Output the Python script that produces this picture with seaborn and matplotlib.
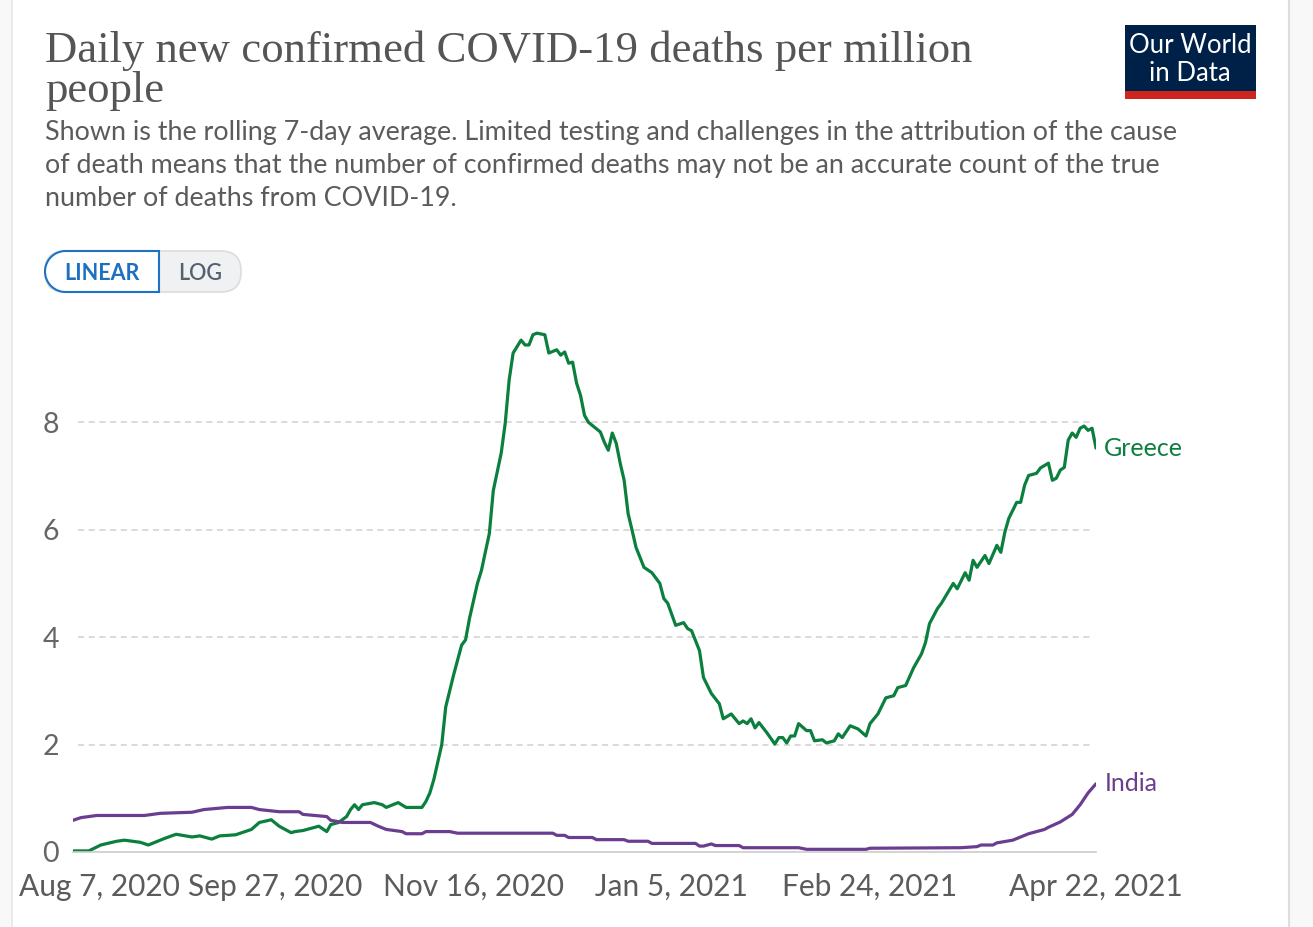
import numpy as np
import pandas as pd
import matplotlib
matplotlib.use("Agg")
import matplotlib.pyplot as plt
from matplotlib.patches import Rectangle, FancyBboxPatch, Polygon
from matplotlib.transforms import ScaledTranslation
import seaborn as sns

# ── Data ─────────────────────────────────────────────────────────────────────
START = pd.Timestamp("2020-08-07")

greece_days = [0, 4, 7, 11, 13, 17, 19, 23, 26, 30, 32, 35, 37, 41, 45, 47, 50,
               52, 55, 56, 58, 60, 62, 64, 65, 67, 69, 70, 71, 72, 73, 76, 78,
               79, 82, 84, 88, 89, 90, 91, 93, 94, 96, 98, 99, 100, 102, 103,
               105, 106, 108, 109, 110, 111, 113, 114, 115, 116, 117, 119, 120,
               122, 123, 124, 125, 126, 127, 128, 129, 130, 133, 134, 135, 136,
               137, 138, 139, 140, 141, 142, 144, 146, 148, 149, 150, 152, 154,
               155, 156, 158, 159, 161, 163, 164, 166, 168, 169, 170, 171, 172,
               173, 175, 177, 178, 179, 180, 181, 182, 183, 185, 186, 187, 189,
               190, 192, 193, 194, 196, 198, 200, 201, 203, 205, 207, 208, 210,
               212, 214, 215, 216, 218, 219, 222, 223, 225, 226, 227, 228, 230,
               231, 233, 234, 235, 236, 238, 239, 240, 241, 243, 244, 246, 247,
               248, 249, 250, 251, 252, 253, 254, 255, 256, 257, 258]
greece_vals = [0.02, 0.02, 0.13, 0.2, 0.22, 0.18, 0.13, 0.25, 0.33, 0.28, 0.3,
               0.24, 0.3, 0.32, 0.42, 0.55, 0.6, 0.48, 0.36, 0.38, 0.4, 0.44,
               0.48, 0.38, 0.51, 0.55, 0.66, 0.79, 0.88, 0.79, 0.88, 0.92, 0.88,
               0.83, 0.92, 0.83, 0.83, 0.94, 1.1, 1.35, 2.0, 2.7, 3.3, 3.85,
               3.95, 4.35, 5.0, 5.24, 5.93, 6.73, 7.43, 7.98, 8.79, 9.29, 9.53,
               9.44, 9.44, 9.63, 9.66, 9.63, 9.29, 9.35, 9.25, 9.31, 9.1, 9.12,
               8.73, 8.5, 8.13, 8.0, 7.82, 7.63, 7.48, 7.8, 7.61, 7.24, 6.92,
               6.3, 5.99, 5.67, 5.3, 5.2, 5.0, 4.72, 4.63, 4.22, 4.27, 4.16,
               4.12, 3.75, 3.25, 2.95, 2.76, 2.48, 2.57, 2.39, 2.44, 2.39, 2.48,
               2.31, 2.41, 2.22, 2.01, 2.13, 2.13, 2.03, 2.16, 2.16, 2.39, 2.26,
               2.26, 2.07, 2.09, 2.03, 2.07, 2.2, 2.13, 2.35, 2.29, 2.16, 2.39,
               2.57, 2.87, 2.91, 3.06, 3.1, 3.43, 3.69, 3.9, 4.25, 4.53, 4.63,
               5.0, 4.9, 5.2, 5.06, 5.43, 5.3, 5.52, 5.37, 5.71, 5.58, 5.95,
               6.21, 6.51, 6.51, 6.83, 7.01, 7.05, 7.15, 7.24, 6.92, 6.96, 7.11,
               7.16, 7.67, 7.8, 7.72, 7.89, 7.93, 7.85, 7.89, 7.52]

india_days = [0, 2, 6, 18, 22, 30, 33, 36, 39, 45, 47, 52, 57, 58, 61, 64, 65,
              68, 75, 77, 79, 81, 83, 84, 88, 89, 95, 97, 121, 122, 124, 125,
              131, 132, 139, 140, 145, 146, 157, 158, 159, 161, 162, 168, 169,
              183, 185, 200, 201, 224, 228, 229, 232, 233, 237, 241, 245, 246,
              249, 252, 254, 256, 258]
india_vals = [0.59, 0.64, 0.68, 0.68, 0.72, 0.74, 0.79, 0.81, 0.83, 0.83, 0.79,
              0.75, 0.75, 0.7, 0.68, 0.66, 0.59, 0.55, 0.55, 0.48, 0.42, 0.4,
              0.38, 0.34, 0.34, 0.38, 0.38, 0.35, 0.35, 0.31, 0.31, 0.27, 0.27,
              0.23, 0.23, 0.2, 0.2, 0.16, 0.16, 0.11, 0.11, 0.15, 0.12, 0.12,
              0.08, 0.08, 0.05, 0.05, 0.07, 0.08, 0.1, 0.13, 0.13, 0.17, 0.22,
              0.34, 0.42, 0.46, 0.56, 0.7, 0.88, 1.1, 1.27]

countries = ["Greece", "India"]
colors = {"Greece": "#0b7f3e", "India": "#6b3d90"}

tick_dates = ["2020-08-07", "2020-09-27", "2020-11-16",
              "2021-01-05", "2021-02-24", "2021-04-22"]
tick_labels = ["Aug 7, 2020", "Sep 27, 2020", "Nov 16, 2020",
               "Jan 5, 2021", "Feb 24, 2021", "Apr 22, 2021"]
y_ticks = [0, 2, 4, 6, 8]

title_lines = ["Daily new confirmed COVID-19 deaths per million", "people"]
subtitle_lines = [
    "Shown is the rolling 7-day average. Limited testing and challenges in the attribution of the cause",
    "of death means that the number of confirmed deaths may not be an accurate count of the true",
    "number of deaths from COVID-19.",
]

df = pd.concat([
    pd.DataFrame({"date": START + pd.to_timedelta(greece_days, unit="D"),
                  "value": greece_vals, "country": "Greece"}),
    pd.DataFrame({"date": START + pd.to_timedelta(india_days, unit="D"),
                  "value": india_vals, "country": "India"}),
])

# ── Style ────────────────────────────────────────────────────────────────────
sns.set_theme(style="white")
plt.rcParams["font.family"] = ["Lato", "DejaVu Sans"]

W, H = 1313, 927
fig = plt.figure(figsize=(W / 100, H / 100), dpi=100)
fig.patch.set_facecolor("white")

# background layer in pixel coordinates (card borders, logo, buttons)
bg = fig.add_axes([0, 0, 1, 1])
bg.set_xlim(0, W)
bg.set_ylim(H, 0)
bg.axis("off")
bg.add_patch(Rectangle((1289, 0), W - 1289, H, color="#f8f8f8", lw=0))
bg.add_patch(Rectangle((0, 0), 12, H, color="#f8f8f8", lw=0))
bg.plot([1289, 1289], [0, H], color="#dedede", lw=1.5)
bg.plot([12, 12], [0, H], color="#e6e6e6", lw=1.2)

# OWID logo
bg.add_patch(Rectangle((1125, 25), 131, 67, color="#002147", lw=0))
bg.add_patch(Rectangle((1125, 91), 131, 8, color="#ce261e", lw=0))
bg.text(1190, 45, "Our World", color="white", fontsize=18.5, ha="center", va="center")
bg.text(1190, 73, "in Data", color="white", fontsize=18.5, ha="center", va="center")

# LINEAR / LOG toggle
bg.add_patch(FancyBboxPatch((45, 251), 196, 41,
                            boxstyle="round,pad=0,rounding_size=20",
                            facecolor="#f0f1f3", edgecolor="#dcdcdc", lw=1.2))
r = 20.5
ang = np.linspace(np.pi / 2, 3 * np.pi / 2, 30)
arc = np.column_stack([45 + r + r * np.cos(ang), 271.5 - r * np.sin(ang)])
left_pts = np.vstack([[159, 251], arc[::-1] if arc[0, 1] > arc[-1, 1] else arc, [159, 292]])
bg.add_patch(Polygon(left_pts, closed=True, facecolor="white",
                     edgecolor="#1e72c4", lw=1.5))
bg.text(102, 273, "LINEAR", color="#1e6fc0", fontsize=15.5, fontweight="bold",
        ha="center", va="center")
bg.text(200, 273, "LOG", color="#556070", fontsize=15.5, fontweight="semibold",
        ha="center", va="center")

# title + subtitle
for i, line in enumerate(title_lines):
    fig.text(45 / W, 1 - (62 + 40 * i) / H, line, family=["Liberation Serif", "DejaVu Serif"],
             fontsize=32.2, color="#555555", va="baseline", ha="left")
for i, line in enumerate(subtitle_lines):
    fig.text(45 / W, 1 - (140 + 33 * i) / H, line, fontsize=19.4,
             color="#5b5b5b", va="baseline", ha="left")

# ── Chart ────────────────────────────────────────────────────────────────────
ax = fig.add_axes([73 / W, 1 - 852 / H, 1023 / W, 521 / H])
ax.set_facecolor("none")
sns.lineplot(data=df, x="date", y="value", hue="country", hue_order=countries,
             palette=colors, estimator=None, linewidth=2.3, legend=False, ax=ax)

ax.set_xlim(START, START + pd.Timedelta(days=258))
ax.set_ylim(0, 9.7)
ax.set_xlabel("")
ax.set_ylabel("")

ax.set_yticks(y_ticks)
ax.set_yticklabels([str(t) for t in y_ticks])
ax.tick_params(axis="y", length=0, pad=10, labelsize=20.5, labelcolor="#666666")
for t in y_ticks[1:]:
    ax.axhline(t, xmin=0.005, xmax=0.995, color="#d0d0d0", lw=1.1,
               linestyle=(0, (4, 3)), zorder=0)

ax.set_xticks(pd.to_datetime(tick_dates))
ax.set_xticklabels(tick_labels)
ax.tick_params(axis="x", length=8, width=1.2, color="#cccccc", direction="out",
               pad=7, labelsize=21.5, labelcolor="#5b5b5b")
first = ax.get_xticklabels()[0]
first.set_transform(first.get_transform() + ScaledTranslation(0.26, 0, fig.dpi_scale_trans))

for s in ["top", "right", "left"]:
    ax.spines[s].set_visible(False)
ax.spines["bottom"].set_color("#cccccc")
ax.spines["bottom"].set_linewidth(1.2)

# end-of-line labels
for c in countries:
    sub = df[df["country"] == c]
    ax.annotate(c, (sub["date"].iloc[-1], sub["value"].iloc[-1]),
                xytext=(6, 0), textcoords="offset points", fontsize=18,
                color=colors[c], va="center", ha="left", annotation_clip=False)

fig.savefig("out.png", dpi=100, facecolor="white")
